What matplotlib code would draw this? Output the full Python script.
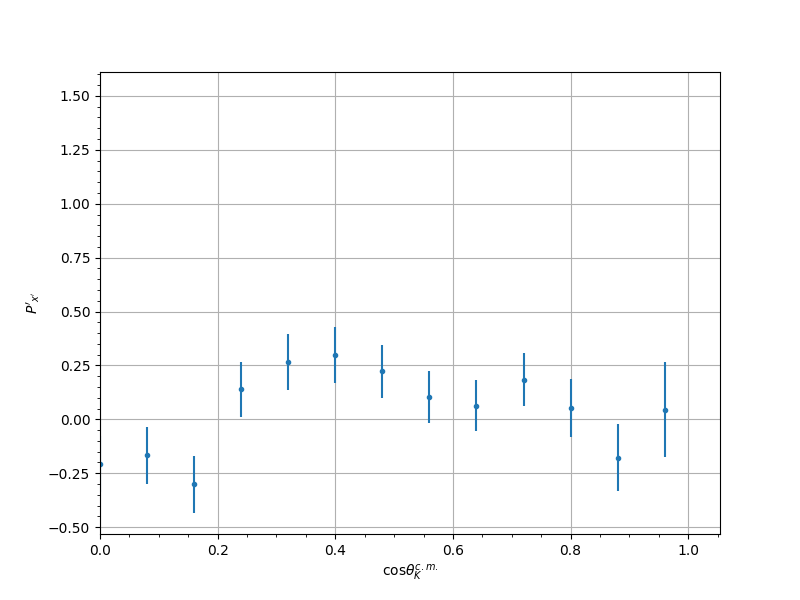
import matplotlib
matplotlib.use('Agg')
import matplotlib.pyplot as plt

# polarisation vs cos(theta_K) in c.m. frame
cos_theta = [0.00, 0.08, 0.16, 0.24, 0.32, 0.40, 0.48, 0.56, 0.64, 0.72, 0.80, 0.88, 0.96]
p_x = [-0.209, -0.167, -0.302, 0.139, 0.265, 0.297, 0.223, 0.102, 0.064, 0.184, 0.054, -0.178, 0.045]
p_x_err = [0.13, 0.133, 0.132, 0.128, 0.13, 0.13, 0.123, 0.12, 0.12, 0.122, 0.135, 0.154, 0.22]

fig, ax = plt.subplots(figsize=(8, 6), dpi=100)
ax.errorbar(cos_theta, p_x, yerr=p_x_err, fmt='.')
ax.set_xlim(0, 1.054)
ax.set_ylim(-0.532, 1.611)
ax.minorticks_on()
ax.grid(True)
ax.set_xlabel(r'cos$\theta_K^{c.m.}$')
ax.set_ylabel(r"$P'_{x'}$")
plt.savefig('out.png')
